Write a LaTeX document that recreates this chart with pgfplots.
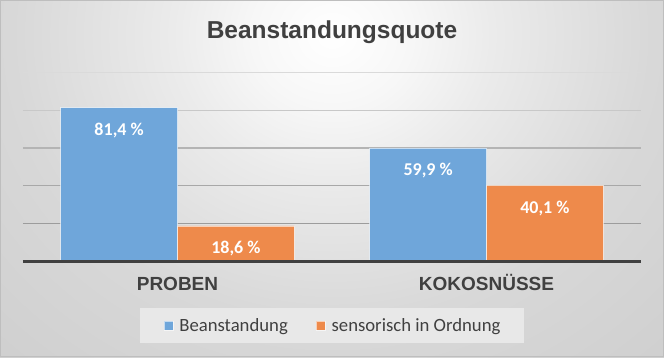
\documentclass[border=0pt]{standalone}
\usepackage{fontspec}
\setmainfont{Carlito}
\newfontfamily\arialfont{Liberation Sans}
\usepackage{pgfplots}
\pgfplotsset{compat=1.18}
\definecolor{barblue}{RGB}{111,166,218}
\definecolor{barorange}{RGB}{238,138,75}
\definecolor{txtgray}{RGB}{64,64,64}
\definecolor{legfill}{RGB}{232,232,232}
\definecolor{bgborder}{RGB}{190,190,190}
\definecolor{bgA}{RGB}{255,255,255}
\definecolor{bgB}{RGB}{247,247,247}
\definecolor{bgC}{RGB}{235,235,235}
\definecolor{bgD}{RGB}{216,216,216}
\definecolor{bgE}{RGB}{208,208,208}
\definecolor{gridA}{RGB}{156,156,156}
\definecolor{gridB}{RGB}{168,168,168}
\definecolor{gridC}{RGB}{180,180,180}
\definecolor{gridD}{RGB}{200,200,200}
\definecolor{gridE}{RGB}{218,218,218}
\pgfdeclareradialshading{bgshade}{\pgfpoint{0bp}{0bp}}{color(0bp)=(bgA); color(5bp)=(bgB); color(10bp)=(bgC); color(20bp)=(bgD); color(30bp)=(bgE); color(50bp)=(bgE)}
\pgfplotsset{
  sqlegend/.style={legend image code/.code={\draw[##1] (0pt,2pt) rectangle (9pt,11pt);}},
  barlabels/.style={
    nodes near coords={\pgfmathprintnumber[fixed,fixed zerofill,precision=1,use comma,assume math mode=true]{\pgfplotspointmeta}~\%},
    nodes near coords align={anchor=north},
    every node near coord/.append style={anchor=north, xshift=#1, yshift=-15pt, inner sep=0pt, text=white, font=\bfseries\fontsize{18}{18}\selectfont}},
}
\begin{document}
\begin{tikzpicture}[x=1pt,y=1pt]
\useasboundingbox (0,0) rectangle (664,357);
\begin{scope}
\clip (0,0) rectangle (664,357);
\shade[shading=bgshade] (-68,-38) rectangle (732,682);
\end{scope}
\draw[line width=1pt, color=bgborder] (0.5,0.5) rectangle (663.5,356.5);
\node[anchor=base, font=\arialfont\bfseries\fontsize{24.5}{24.5}\selectfont, text=txtgray, inner sep=0pt] at (332,318) {Beanstandungsquote};
\begin{axis}[
  at={(23pt,96pt)}, anchor=south west,
  width=618pt, height=188.5pt, scale only axis,
  xmin=-0.5, xmax=1.5, ymin=0, ymax=100,
  axis line style={draw=none},
  major tick length=0pt,
  ytick=\empty,
  xtick={0,1}, xticklabels={PROBEN,KOKOSNÜSSE},
  xticklabel style={font=\arialfont\bfseries\fontsize{19}{19}\selectfont, text=txtgray, inner sep=0pt, anchor=north, text height=13.6pt, text depth=0pt, yshift=-16pt},
  clip=false,
  legend columns=2,
  legend style={at={(0.5,-0.342)}, anchor=center, draw=none, fill=legfill,
    inner xsep=23.5pt, inner ysep=8.5pt,
    font=\fontsize{18.7}{18.7}\selectfont, text=txtgray,
    cells={anchor=base west},
    nodes={inner sep=0pt, text height=15.5pt, text depth=2.5pt},
    /tikz/every even column/.append style={column sep=28pt},
    /tikz/every odd column/.append style={column sep=6pt}},
]
\addplot[forget plot, mark=none, color=gridA, line width=1.3pt] coordinates {(-0.5,20) (1.5,20)};
\addplot[forget plot, mark=none, color=gridB, line width=1.3pt] coordinates {(-0.5,40) (1.5,40)};
\addplot[forget plot, mark=none, color=gridC, line width=1.3pt] coordinates {(-0.5,60) (1.5,60)};
\addplot[forget plot, mark=none, color=gridD, line width=1.3pt] coordinates {(-0.5,80) (1.5,80)};
\addplot[forget plot, mark=none, color=gridE, line width=1.3pt] coordinates {(-0.5,100) (1.5,100)};
\addplot[ybar, bar width=0.378, bar shift=-0.189, fill=barblue, draw=white, draw opacity=0.6, line width=0.8pt, sqlegend, barlabels=-58.4pt]
  coordinates {(0,81.4) (1,59.9)};
\addplot[ybar, bar width=0.378, bar shift=0.189, fill=barorange, draw=white, draw opacity=0.6, line width=0.8pt, sqlegend, barlabels=58.4pt]
  coordinates {(0,18.6) (1,40.1)};
\addplot[forget plot, mark=none, color=txtgray, line width=3pt] coordinates {(-0.5,0) (1.5,0)};
\legend{Beanstandung, sensorisch in Ordnung}
\end{axis}
\end{tikzpicture}
\end{document}
